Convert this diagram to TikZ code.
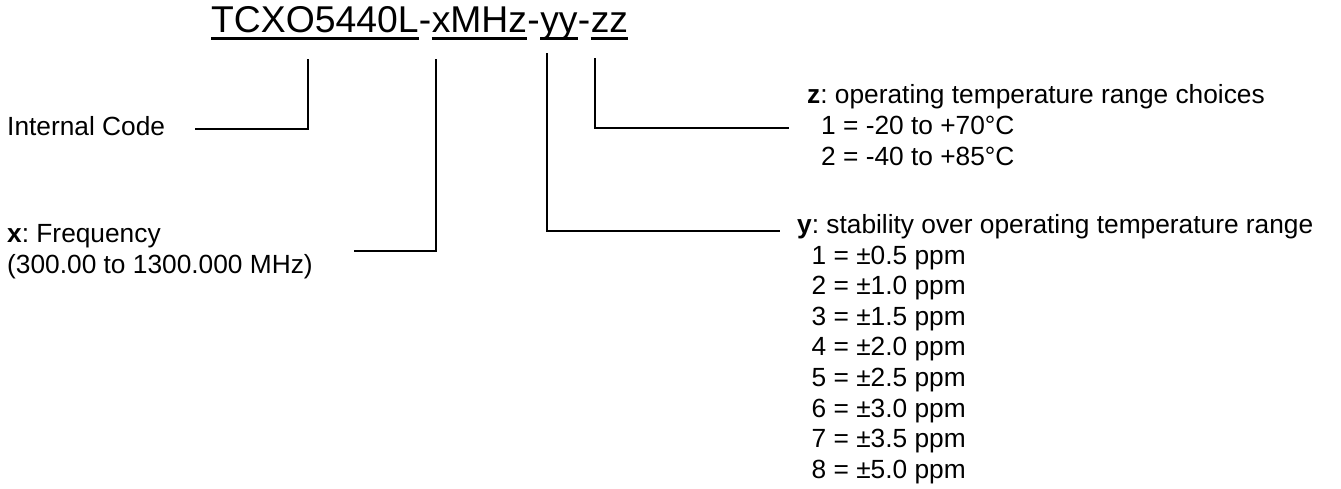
\documentclass[tikz,border=0pt]{standalone}
\usepackage{fontspec}
\setmainfont{Liberation Sans}
\frenchspacing
\begin{document}
\begin{tikzpicture}[x=1pt,y=-1pt,
  lbl/.style={anchor=base west,inner sep=0pt,font=\fontsize{26.3}{30.5}\selectfont},
  ttl/.style={anchor=base west,inner sep=0pt,font=\fontsize{37.3}{42}\selectfont},
  conn/.style={line width=1.6pt,line cap=rect},
  uln/.style={line width=2.4pt}]
\useasboundingbox (0,0) rectangle (1341,489);
% title
\node[ttl] (t1) at (211,33) {TCXO5440L};
\node[ttl] (h1) at (t1.base east) {-};
\node[ttl] (t2) at (h1.base east) {xMHz};
\node[ttl] (h2) at (t2.base east) {-};
\node[ttl] (t3) at (h2.base east) {yy};
\node[ttl] (h3) at (t3.base east) {-};
\node[ttl] (t4) at (h3.base east) {zz};
\foreach \n in {t1,t2,t3,t4}
  \draw[uln] ([yshift=-5.5pt]\n.base west) -- ([yshift=-5.5pt]\n.base east);
% labels
\node[lbl] (ic) at (7,136) {Internal Code};
\node[lbl] (xf) at (7,243) {\textbf{x}: Frequency};
\node[lbl] (xr) at (7,273) {(300.00 to 1300.000 MHz)};
\node[lbl] (zh) at (807,104) {\textbf{z}: operating temperature range choices};
\node[lbl] (z1) at (821,135) {1 = -20 to +70°C};
\node[lbl] (z2) at (821,165.5) {2 = -40 to +85°C};
\node[lbl] (yh) at (797,233.5) {\textbf{y}: stability over operating temperature range};
\foreach \i/\v in {1/0.5,2/1.0,3/1.5,4/2.0,5/2.5,6/3.0,7/3.5,8/5.0}
  \node[lbl] (y\i) at (811.5,233.5+\i*30.6) {\i\ = ±\v\ ppm};
% connectors
\coordinate (ica) at (308,60);  \coordinate (icb) at (196,129);
\coordinate (xa)  at (436,60);  \coordinate (xb)  at (355,251);
\coordinate (ya)  at (547,54);  \coordinate (yb)  at (779,231);
\coordinate (za)  at (595,59);  \coordinate (zb)  at (788,128);
\draw[conn] (ica) |- (icb);
\draw[conn] (xa) |- (xb);
\draw[conn] (ya) |- (yb);
\draw[conn] (za) |- (zb);
\end{tikzpicture}
\end{document}
